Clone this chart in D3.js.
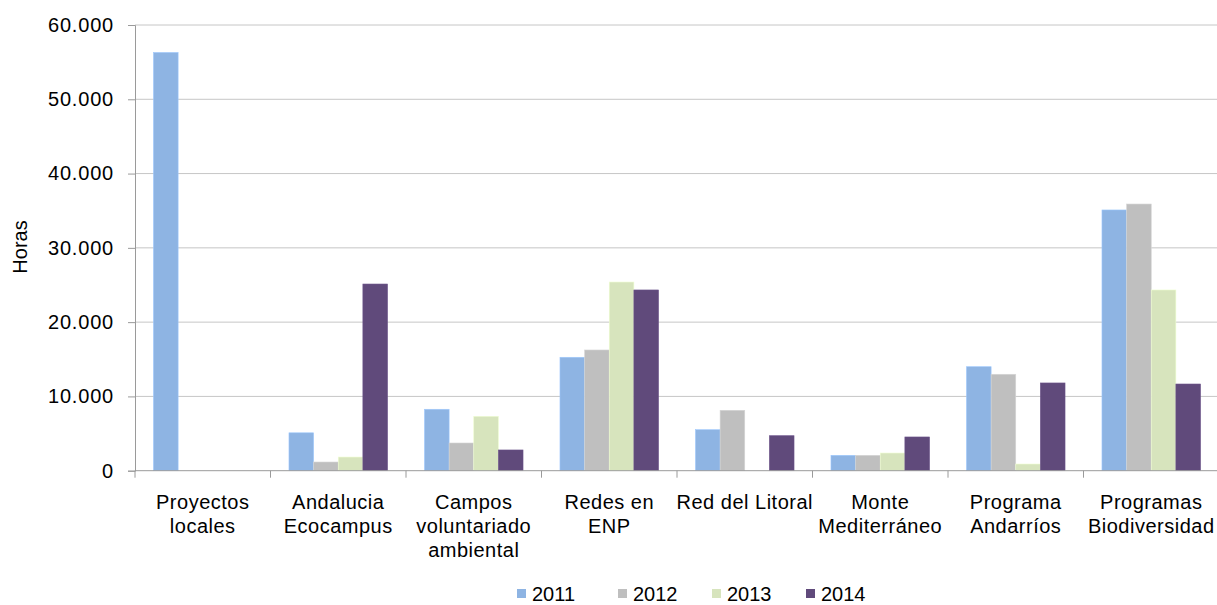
<!DOCTYPE html>
<html><head><meta charset="utf-8">
<script src="https://cdn.jsdelivr.net/npm/d3@7"></script>
<style>html,body{margin:0;padding:0;background:#fff;}svg{display:block;}</style>
</head><body>
<svg id="c" width="1217" height="605"></svg>
<script>
const categories = [
  ["Proyectos","locales"],
  ["Andalucia","Ecocampus"],
  ["Campos","voluntariado","ambiental"],
  ["Redes en","ENP"],
  ["Red del Litoral"],
  ["Monte","Mediterráneo"],
  ["Programa","Andarríos"],
  ["Programas","Biodiversidad"]
];
const years = ["2011","2012","2013","2014"];
const v2011 = [56300, 5100, 8270, 15270, 5520, 2070, 14000, 35100];
const v2012 = [0, 1170, 3730, 16250, 8130, 2070, 12980, 35900];
const v2013 = [0, 1840, 7320, 25400, 0, 2380, 900, 24330];
const v2014 = [0, 25130, 2790, 24330, 4710, 4540, 11810, 11670];
const yTicks = [0, 10000, 20000, 30000, 40000, 50000, 60000];
const colors = ["#8EB4E3", "#BFBFBF", "#D7E4BD", "#604A7B"];
const series = [v2011, v2012, v2013, v2014];

const svg = d3.select("#c");
const mLeft = 135, mRight = 1219, mTop = 25, mBottom = 470.7;
const font = "'Liberation Sans', Arial, sans-serif";

const x = d3.scaleBand().domain(d3.range(categories.length)).range([mLeft, mRight]).paddingInner(0).paddingOuter(0);
const xi = d3.scaleBand().domain(years).range([0, x.bandwidth()]).paddingInner(0).paddingOuter(0.75);
const y = d3.scaleLinear().domain([0, 60000]).range([mBottom, mTop]);

// gridlines
svg.append("g").selectAll("line").data(yTicks.filter(d => d > 0)).join("line")
  .attr("x1", mLeft).attr("x2", mRight)
  .attr("y1", d => y(d)).attr("y2", d => y(d))
  .attr("stroke", "#c6c6c6").attr("stroke-width", 1);

// y axis
const yAxis = d3.axisLeft(y).tickValues(yTicks).tickSize(7).tickPadding(14)
  .tickFormat(d => d === 0 ? "0" : d3.format(",")(d).replace(/,/g, "."));
const gy = svg.append("g").attr("transform", `translate(${mLeft},0)`).call(yAxis);
gy.select(".domain").attr("stroke", "#9a9a9a");
gy.selectAll(".tick line").attr("stroke", "#9a9a9a");
gy.selectAll(".tick text").attr("font-family", font).attr("font-size", 20)
  .attr("letter-spacing", 0.8).attr("fill", "#000");

// bars
const g = svg.append("g");
series.forEach((vals, si) => {
  g.append("g").selectAll("rect").data(vals).join("rect")
    .attr("x", (d, i) => x(i) + xi(years[si]))
    .attr("width", xi.bandwidth())
    .attr("y", d => y(d))
    .attr("height", d => mBottom - y(d))
    .attr("fill", colors[si])
    .attr("stroke", d3.color(colors[si]).brighter(0.3))
    .attr("stroke-width", 0.6);
});

// x axis
svg.append("line").attr("x1", mLeft).attr("x2", mRight).attr("y1", mBottom).attr("y2", mBottom)
  .attr("stroke", "#9a9a9a");
svg.append("g").selectAll("line").data(d3.range(categories.length + 1)).join("line")
  .attr("x1", i => mLeft + i * x.step()).attr("x2", i => mLeft + i * x.step())
  .attr("y1", mBottom).attr("y2", mBottom + 7).attr("stroke", "#9a9a9a");

const lab = svg.append("g");
categories.forEach((lines, i) => {
  const t = lab.append("text").attr("font-family", font).attr("font-size", 20)
    .attr("letter-spacing", 0.5).attr("text-anchor", "middle").attr("fill", "#000");
  lines.forEach((ln, j) => {
    t.append("tspan").attr("x", x(i) + x.bandwidth() / 2).attr("y", 509 + j * 24).text(ln);
  });
});

// y label
svg.append("text").attr("transform", "translate(27,247) rotate(-90)")
  .attr("text-anchor", "middle").attr("font-family", font).attr("font-size", 20).text("Horas");

// legend
const legX = [517, 618, 712, 806];
years.forEach((yr, i) => {
  svg.append("rect").attr("x", legX[i]).attr("y", 589).attr("width", 9).attr("height", 9).attr("fill", colors[i]);
  svg.append("text").attr("x", legX[i] + 15).attr("y", 601).attr("font-family", font)
    .attr("font-size", 20).attr("fill", "#000").text(yr);
});
</script>
</body></html>
